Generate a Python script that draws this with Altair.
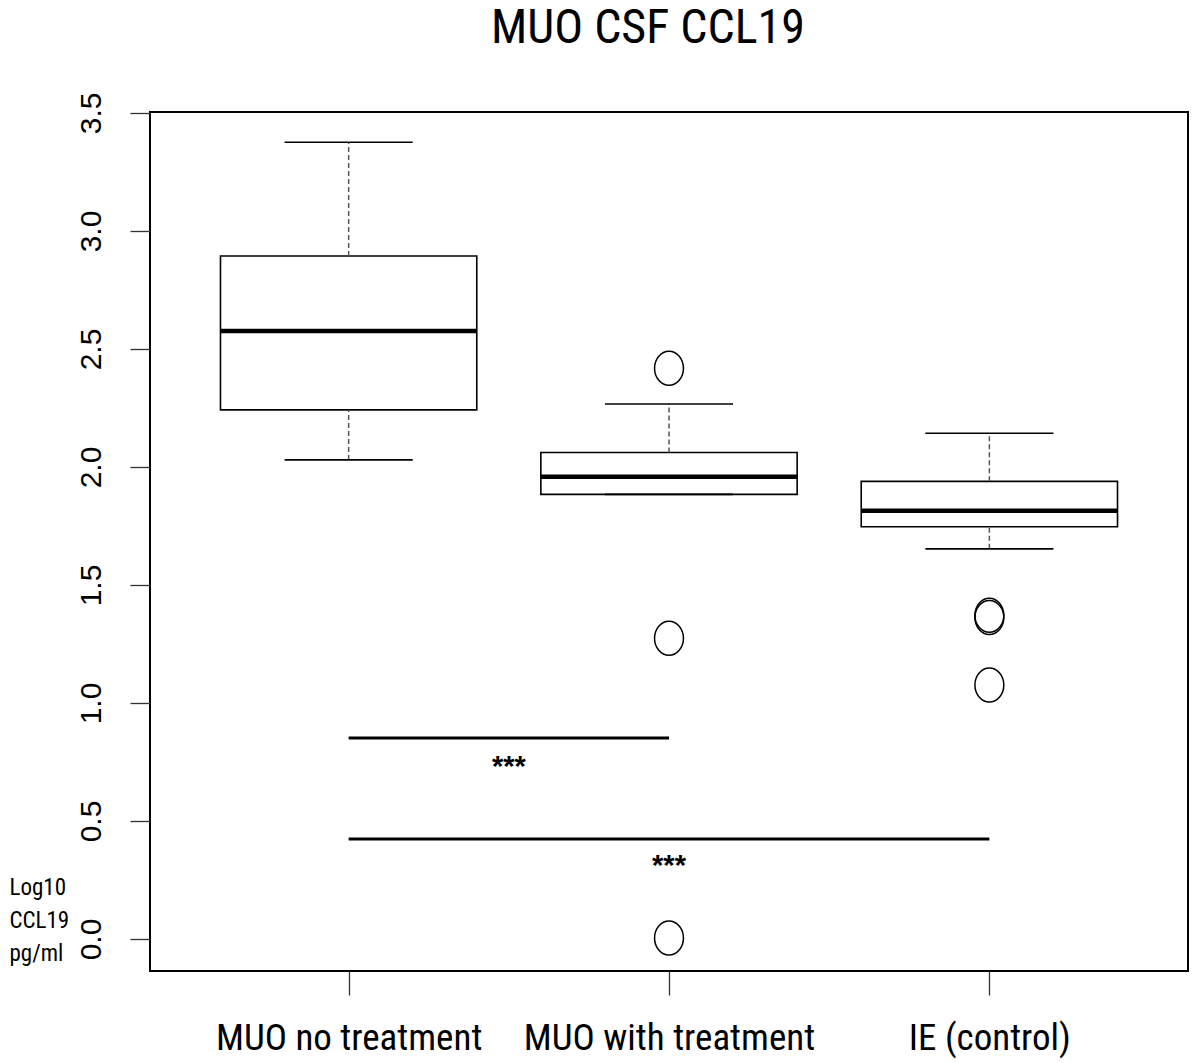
import altair as alt
import pandas as pd

# ---- data ----
groups = ["MUO no treatment", "MUO with treatment", "IE (control)"]
whisker_lo = [2.030, 1.884, 1.653]
q1 = [2.242, 1.884, 1.747]
median = [2.576, 1.959, 1.815]
q3 = [2.894, 2.061, 1.939]
whisker_hi = [3.376, 2.267, 2.143]

outlier_group = ["MUO with treatment", "MUO with treatment", "MUO with treatment",
                 "IE (control)", "IE (control)", "IE (control)"]
outlier_value = [2.418, 1.274, 0.004, 1.362, 1.372, 1.076]

sig_from = ["MUO no treatment", "MUO no treatment"]
sig_to = ["MUO with treatment", "IE (control)"]
sig_y = [0.852, 0.424]
sig_text_y = [0.728, 0.31]
sig_label = ["***", "***"]

y_ticks = [0.0, 0.5, 1.0, 1.5, 2.0, 2.5, 3.0, 3.5]

title_text = "MUO CSF CCL19"
y_title = ["Log10", "CCL19", "pg/ml"]

F_XLAB = "Roboto Condensed"
F_TITLE = "Roboto Condensed"
F_YTICK = "Liberation Sans"
F_YTITLE = "Roboto Condensed"
F_SIG = "Liberation Sans"

pos = {g: i + 1 for i, g in enumerate(groups)}

box_df = pd.DataFrame({
    "group": groups, "pos": [pos[g] for g in groups],
    "lo": whisker_lo, "q1": q1, "med": median, "q3": q3, "hi": whisker_hi,
})
out_df = pd.DataFrame({"pos": [pos[g] for g in outlier_group], "value": outlier_value})
sig_df = pd.DataFrame({
    "x1": [pos[g] for g in sig_from], "x2": [pos[g] for g in sig_to],
    "y": sig_y, "ty": sig_text_y, "label": sig_label,
})
sig_df["xm"] = (sig_df["x1"] + sig_df["x2"]) / 2

label_expr = "[" + ",".join("'" + g + "'" for g in groups) + "][datum.value - 1]"

xscale = alt.Scale(domain=[0.38, 3.62], nice=False, zero=False)
yscale = alt.Scale(domain=[-0.1356, 3.504], nice=False, zero=False)

x_axis = alt.Axis(values=[1, 2, 3], labelExpr=label_expr, title=None, grid=False,
                  domain=False, tickSize=24, tickColor="#333", tickWidth=1.3,
                  labelFont=F_XLAB, labelFontSize=37, labelColor="black",
                  labelPadding=25, labelFlush=False, labelLimit=0, labelOverlap=False)
y_axis = alt.Axis(values=y_ticks, format=".1f", grid=False, domain=False,
                  tickSize=20, tickColor="#333", tickWidth=1.3,
                  labelFont=F_YTICK, labelFontSize=30, labelColor="black",
                  labelAngle=270, labelAlign="center", labelBaseline="bottom",
                  labelPadding=24, labelOverlap=False,
                  title=y_title, titleAngle=0, titleAlign="left", titleBaseline="top",
                  titleX=-141, titleY=764, titleFont=F_YTITLE, titleFontSize=23,
                  titleFontWeight="normal", titleLineHeight=33, titleColor="black",
                  titleLimit=0)

base = alt.Chart(box_df)

boxes = base.transform_calculate(
    xl="datum.pos - 0.4", xr="datum.pos + 0.4"
).mark_rect(fill="white", stroke="black", strokeWidth=1.6).encode(
    x=alt.X("xl:Q", scale=xscale, axis=x_axis),
    x2="xr:Q",
    y=alt.Y("q1:Q", scale=yscale, axis=y_axis),
    y2="q3:Q",
)

medians = base.transform_calculate(
    xl="datum.pos - 0.4", xr="datum.pos + 0.4"
).mark_rule(color="black", strokeWidth=4.5).encode(
    x=alt.X("xl:Q", scale=xscale), x2="xr:Q", y=alt.Y("med:Q", scale=yscale)
)

wh_up = base.mark_rule(color="#555", strokeWidth=1.5, strokeDash=[5, 3]).encode(
    x=alt.X("pos:Q", scale=xscale), y=alt.Y("q3:Q", scale=yscale), y2="hi:Q"
)
wh_lo = base.mark_rule(color="#555", strokeWidth=1.5, strokeDash=[5, 3]).encode(
    x=alt.X("pos:Q", scale=xscale), y=alt.Y("lo:Q", scale=yscale), y2="q1:Q"
)

cap_hi = base.transform_calculate(
    xl="datum.pos - 0.2", xr="datum.pos + 0.2"
).mark_rule(color="black", strokeWidth=1.6).encode(
    x=alt.X("xl:Q", scale=xscale), x2="xr:Q", y=alt.Y("hi:Q", scale=yscale)
)
cap_lo = base.transform_calculate(
    xl="datum.pos - 0.2", xr="datum.pos + 0.2"
).mark_rule(color="black", strokeWidth=1.6).encode(
    x=alt.X("xl:Q", scale=xscale), x2="xr:Q", y=alt.Y("lo:Q", scale=yscale)
)

ellipse = "M-0.85,0 A0.85,1 0 1,1 0.85,0 A0.85,1 0 1,1 -0.85,0 Z"
outliers = alt.Chart(out_df).mark_point(
    shape=ellipse, size=1156, filled=False, stroke="black", strokeWidth=1.5, opacity=1
).encode(x=alt.X("pos:Q", scale=xscale), y=alt.Y("value:Q", scale=yscale))

sig_lines = alt.Chart(sig_df).mark_rule(color="black", strokeWidth=3).encode(
    x=alt.X("x1:Q", scale=xscale), x2="x2:Q", y=alt.Y("y:Q", scale=yscale)
)
sig_txt = alt.Chart(sig_df).mark_text(
    font=F_SIG, fontSize=29, fontWeight="bold", color="black", baseline="middle"
).encode(
    x=alt.X("xm:Q", scale=xscale), y=alt.Y("ty:Q", scale=yscale), text="label:N"
)

chart = alt.layer(
    boxes, wh_up, wh_lo, cap_hi, cap_lo, medians, outliers, sig_lines, sig_txt
).properties(
    width=1038, height=859,
    background="white",
    title=alt.TitleParams(title_text, font=F_TITLE, fontSize=48, fontWeight="normal",
                          color="black", anchor="middle", dx=-21, offset=39),
    autosize=alt.AutoSizeParams(type="none"),
    padding={"left": 142, "top": 104, "right": 4, "bottom": 90},
).configure_view(stroke="black", strokeWidth=2)

chart.save("out.html", embed_options={"renderer": "svg", "actions": False})
